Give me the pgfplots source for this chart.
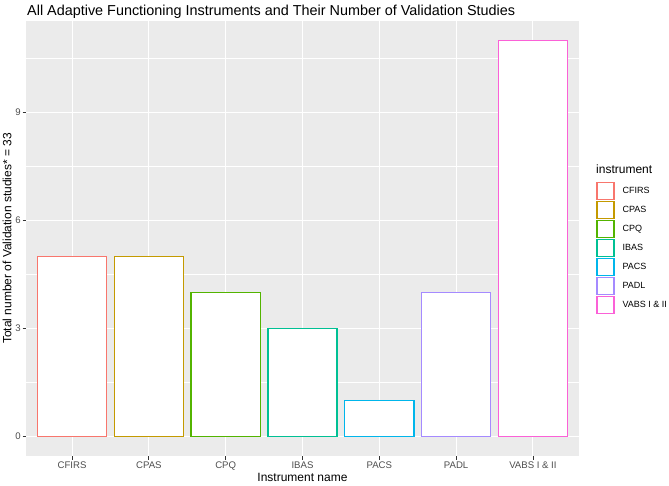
\documentclass[border=0pt]{standalone}
\usepackage{fontspec}
\setmainfont{Liberation Sans}
\usepackage{pgfplots}
\pgfplotsset{compat=1.18}
\definecolor{c1}{HTML}{F8766D}
\definecolor{c2}{HTML}{C49A00}
\definecolor{c3}{HTML}{53B400}
\definecolor{c4}{HTML}{00C094}
\definecolor{c5}{HTML}{00B6EB}
\definecolor{c6}{HTML}{A58AFF}
\definecolor{c7}{HTML}{FB61D7}
\definecolor{panel}{HTML}{EBEBEB}
\definecolor{tickc}{HTML}{4D4D4D}
\definecolor{tickm}{HTML}{333333}
\begin{document}
\begin{tikzpicture}
\useasboundingbox (-26pt,-29pt) rectangle (643pt,456pt);
\begin{axis}[
  at={(0pt,0pt)}, anchor=south west,
  width=553pt, height=435pt, scale only axis,
  xmin=0.4, xmax=7.6, ymin=-0.55, ymax=11.55,
  axis background/.style={fill=panel},
  axis line style={draw=none},
  ybar, bar width=0.9, bar shift=0pt,
  xtick={1,...,7},
  xticklabels={CFIRS,CPAS,CPQ,IBAS,PACS,PADL,VABS I \& II},
  ytick={0,3,6,9}, minor ytick={1.5,4.5,7.5,10.5},
  xmajorgrids, ymajorgrids, yminorgrids,
  major grid style={white,line width=1.1pt},
  minor grid style={white,line width=0.55pt},
  tick pos=left,
  tick align=outside, major tick length=3.5pt, minor tick length=0pt,
  tick style={tickm, line width=0.8pt},
  /pgf/number format/assume math mode=true,
  ticklabel style={font=\fontsize{9.6}{11}\selectfont, text=tickc},
  yticklabel style={inner xsep=1.5pt},
  xticklabel style={inner ysep=2.5pt},
  legend cell align=left,
  legend style={at={(1,0.478)}, anchor=west, xshift=17pt, draw=none, fill=none,
    font=\fontsize{9}{11}\selectfont, row sep=0.6pt, column sep=8pt,
    inner sep=0pt, nodes={inner sep=0pt}},
  legend image code/.code={\draw[#1, fill=white, line width=1.4pt] (0pt,-8.5pt) rectangle (17pt,8.5pt);},
]
\addplot[draw=c1, fill=white, line width=1.4pt] coordinates {(1,5)};
\addlegendentry{CFIRS}
\addplot[draw=c2, fill=white, line width=1.4pt] coordinates {(2,5)};
\addlegendentry{CPAS}
\addplot[draw=c3, fill=white, line width=1.4pt] coordinates {(3,4)};
\addlegendentry{CPQ}
\addplot[draw=c4, fill=white, line width=1.4pt] coordinates {(4,3)};
\addlegendentry{IBAS}
\addplot[draw=c5, fill=white, line width=1.4pt] coordinates {(5,1)};
\addlegendentry{PACS}
\addplot[draw=c6, fill=white, line width=1.4pt] coordinates {(6,4)};
\addlegendentry{PADL}
\addplot[draw=c7, fill=white, line width=1.4pt] coordinates {(7,11)};
\addlegendentry{VABS I \& II}
\end{axis}
\node[anchor=base west, inner sep=0pt, font=\fontsize{14.4}{16}\selectfont] at (1pt,440.5pt) {All Adaptive Functioning Instruments and Their Number of Validation Studies};
\node[rotate=90, inner sep=0pt, font=\fontsize{12}{14}\selectfont] at (-19pt,217.5pt) {Total number of Validation studies* = 33};
\node[inner sep=0pt, font=\fontsize{12}{14}\selectfont] at (276.5pt,-21pt) {Instrument name};
\node[anchor=base west, inner sep=0pt, font=\fontsize{12}{14}\selectfont] at (570pt,282pt) {instrument};
\end{tikzpicture}
\end{document}
